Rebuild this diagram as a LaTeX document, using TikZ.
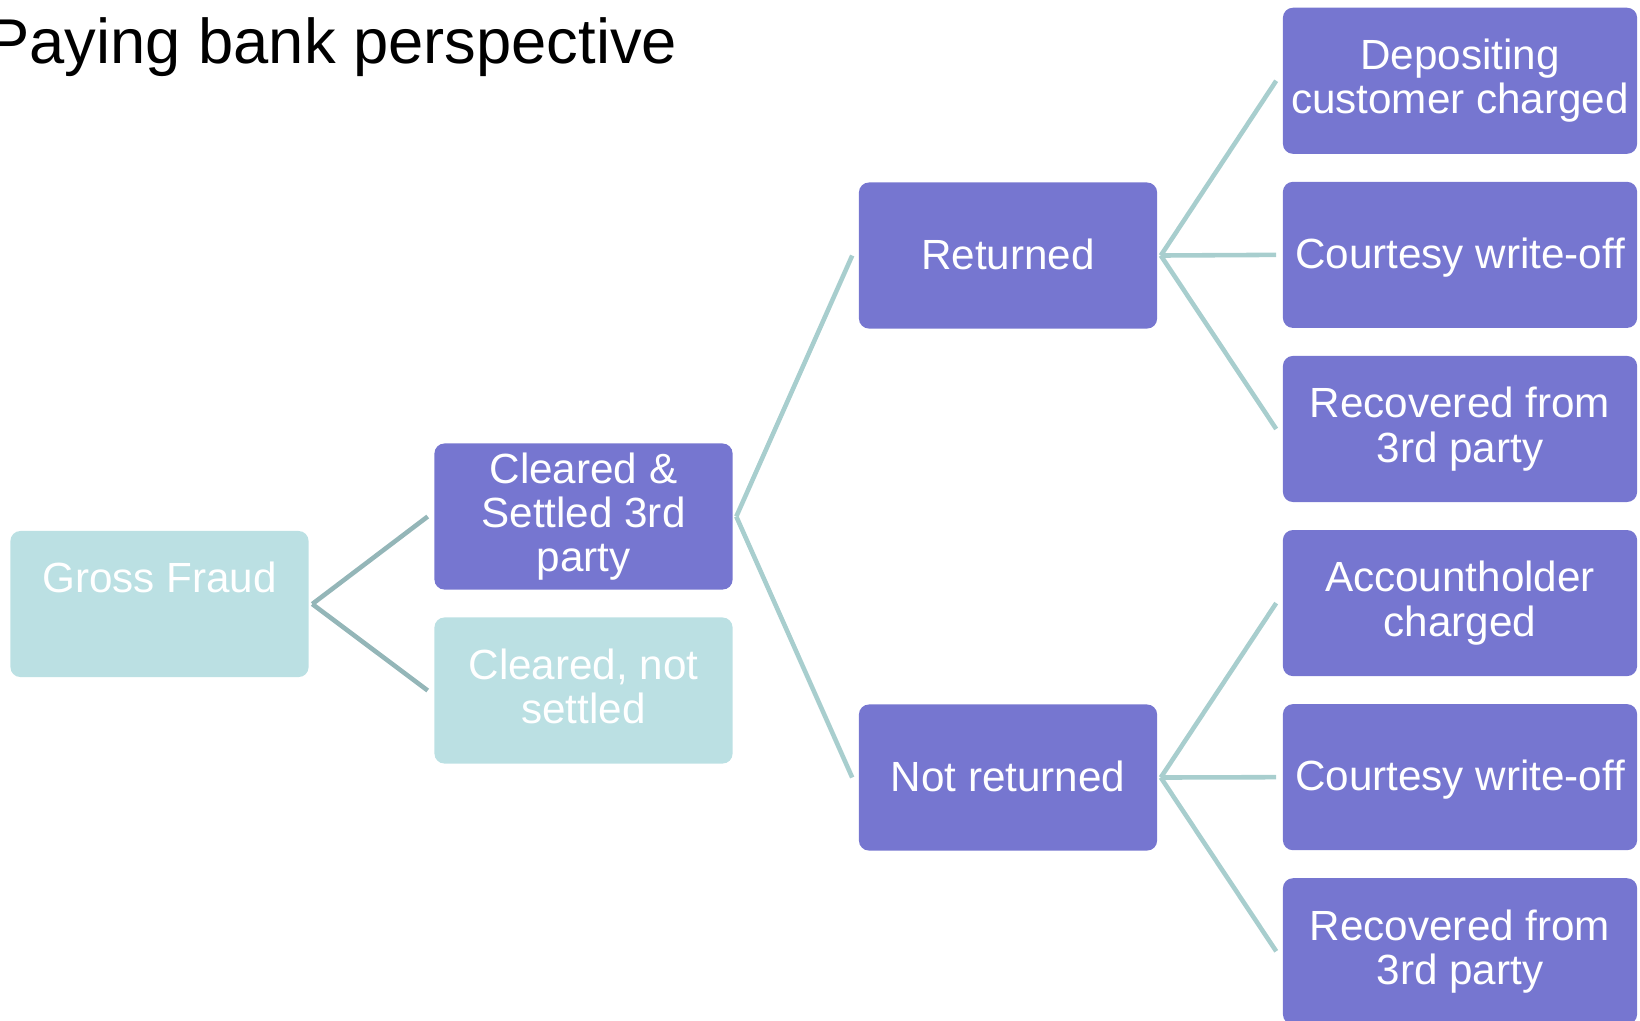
\documentclass[tikz,border=0pt]{standalone}
\usepackage{fontspec}
\setmainfont{Liberation Sans}
\usetikzlibrary{positioning, shapes}

\definecolor{boxpurple}{RGB}{118,118,208}
\definecolor{boxteal}{RGB}{187,224,227}
\definecolor{linkdark}{RGB}{148,182,184}
\definecolor{linklight}{RGB}{168,206,206}

\begin{document}
\begin{tikzpicture}[x=0.01cm,y=-0.01cm]
		\tikzstyle{box}=[rectangle,rounded corners=0.1cm,text=white,align=center,inner sep=0pt,minimum width=2.98cm,minimum height=1.46cm,font=\fontsize{12}{12.6}\selectfont,execute at begin node={\rule{0pt}{10.2pt}},execute at end node={\rule[-2.4pt]{0pt}{2.4pt}}]
		\tikzstyle{active}=[box,fill=boxpurple]
		\tikzstyle{idle}=[box,fill=boxteal]
		\tikzstyle{leaf}=[active,minimum width=3.54cm]
		\tikzstyle{link}=[draw=linklight,line width=1.3pt]
		\useasboundingbox (0,0) rectangle (1640,1020);
		\clip (0,0) rectangle (1640,1020);
		\node[anchor=base west,font=\fontsize{18}{20}\selectfont] (title) at (-25,63) {Paying bank perspective};
		\node[idle] (gross) at (159.5,604) {Gross Fraud\\ \mbox{}};
		\node[active] (settled) at (583.5,516.5) {Cleared \&\\Settled 3rd\\party};
		\node[idle] (notsettled) at (583.5,690.5) {Cleared, not\\settled};
		\node[active] (returned) at (1008,255.5) {Returned};
		\node[active] (notreturned) at (1008,777.5) {Not returned};
		\matrix (leaves) [nodes={leaf},row sep=0.28cm] at (1460,516)
		{
			\node (depositing) {Depositing\\customer charged}; \\
			\node (courtesyA) {Courtesy write-off}; \\
			\node (recoveredA) {Recovered from\\3rd party}; \\
			\node (holder) {Accountholder\\charged}; \\
			\node (courtesyB) {Courtesy write-off}; \\
			\node (recoveredB) {Recovered from\\3rd party}; \\
		};
		\foreach \kid in {settled,notsettled}
			\draw[link,draw=linkdark] ([xshift=0.03cm]gross.east) -- ([xshift=-0.06cm]\kid.west);
		\foreach \kid in {returned,notreturned}
			\draw[link] ([xshift=0.03cm]settled.east) -- ([xshift=-0.06cm]\kid.west);
		\foreach \kid in {depositing,courtesyA,recoveredA}
			\draw[link] ([xshift=0.03cm]returned.east) -- ([xshift=-0.06cm]\kid.west);
		\foreach \kid in {holder,courtesyB,recoveredB}
			\draw[link] ([xshift=0.03cm]notreturned.east) -- ([xshift=-0.06cm]\kid.west);
\end{tikzpicture}
\end{document}
